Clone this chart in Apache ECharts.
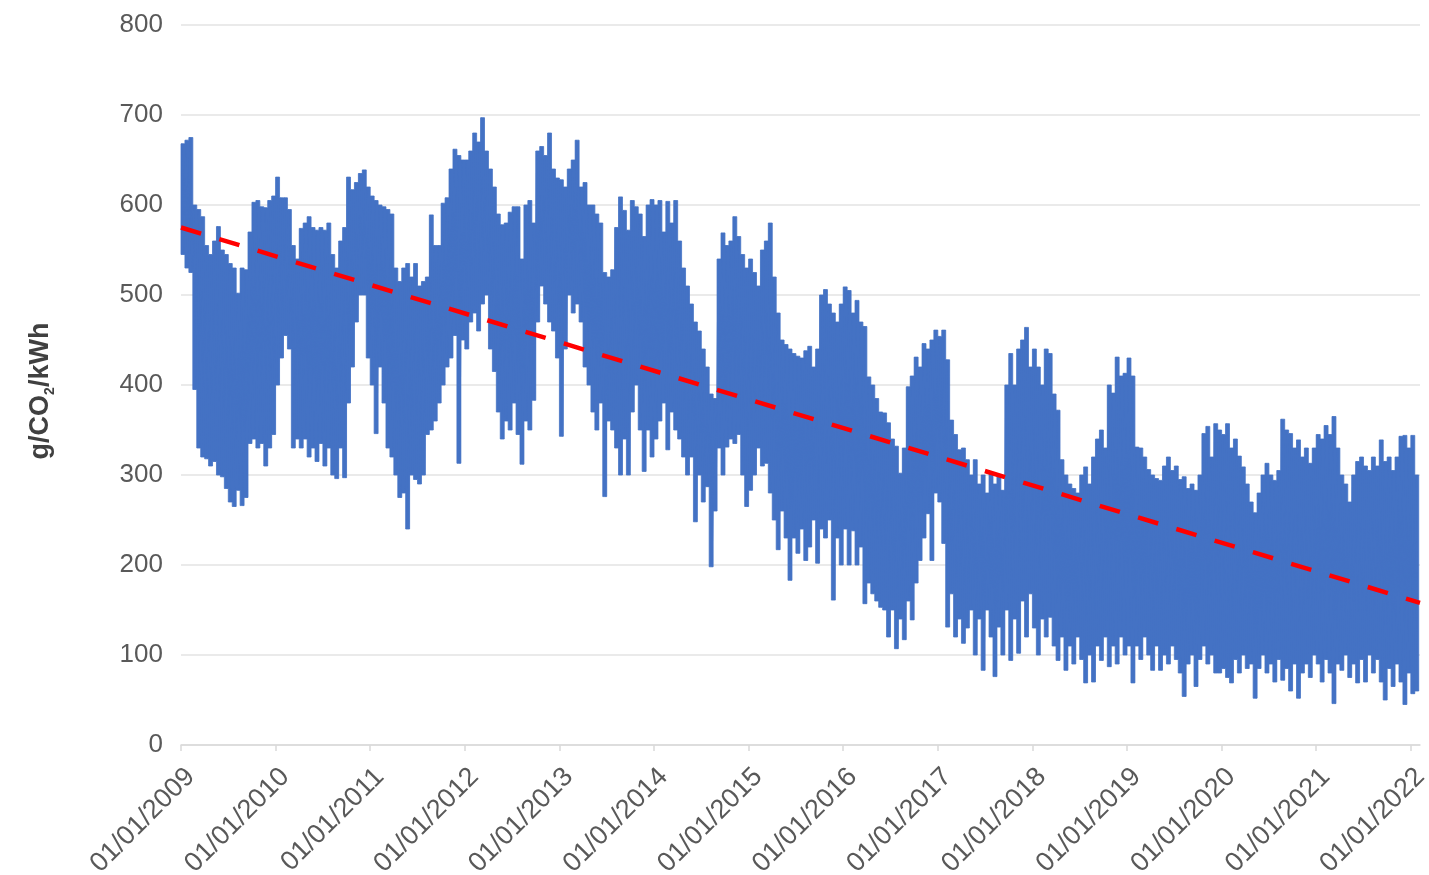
<!DOCTYPE html>
<html>
<head>
<meta charset="utf-8">
<script src="https://cdn.jsdelivr.net/npm/echarts@6/dist/echarts.min.js"></script>
<style>
html,body{margin:0;padding:0;background:#fff;}
#chart{width:1429px;height:875px;}
</style>
</head>
<body>
<div id="chart"></div>
<script>
// Alternating high / low readings, 24 pairs per year
const y2009 = [668,545, 672,530, 675,525, 600,395, 595,330, 587,320, 555,318, 545,310, 560,315, 576,300, 550,298, 545,285, 535,270, 530,265, 502,283, 530,266, 528,275, 570,335, 603,340, 605,330, 598,335, 597,310, 605,330, 610,345];
const y2010 = [631,400, 608,430, 608,455, 595,440, 555,330, 540,340, 574,330, 580,340, 587,320, 575,330, 572,315, 575,335, 572,310, 580,330, 545,300, 530,296, 560,330, 575,297, 631,380, 617,420, 625,470, 635,500, 639,500, 620,430];
const y2011 = [610,400, 605,346, 600,420, 598,380, 595,330, 590,320, 530,300, 515,275, 530,280, 535,240, 520,300, 535,295, 510,290, 515,300, 520,345, 589,350, 555,360, 555,380, 602,400, 608,420, 640,430, 662,455, 655,313, 650,450];
const y2012 = [650,440, 660,470, 680,480, 670,460, 697,490, 660,500, 640,440, 620,415, 590,370, 578,340, 580,360, 592,350, 598,380, 598,345, 540,312, 600,360, 605,350, 580,383, 660,470, 665,510, 655,490, 680,470, 640,460, 630,430];
const y2013 = [628,343, 620,440, 640,500, 650,480, 672,490, 620,470, 625,420, 600,400, 600,370, 590,350, 580,380, 525,276, 520,360, 528,350, 575,330, 609,300, 594,340, 572,300, 605,370, 598,400, 590,350, 565,304, 600,350, 606,320];
const y2014 = [600,340, 605,360, 570,380, 604,328, 580,370, 605,350, 560,340, 530,320, 510,300, 490,320, 470,248, 460,300, 440,270, 420,287, 390,198, 385,260, 540,330, 569,300, 555,331, 560,340, 587,335, 565,345, 545,300, 530,265];
const y2015 = [540,283, 525,300, 510,330, 550,310, 560,313, 580,280, 520,250, 480,217, 450,260, 445,230, 440,183, 435,230, 432,213, 430,240, 438,205, 443,220, 420,250, 440,202, 500,240, 506,230, 490,250, 480,161, 470,230, 490,200];
const y2016 = [509,240, 505,200, 480,238, 494,200, 470,220, 465,157, 409,180, 400,168, 385,160, 370,153, 369,150, 358,120, 340,150, 332,107, 302,140, 330,117, 398,160, 410,139, 431,180, 420,205, 446,230, 440,257, 450,205, 461,280];
const y2017 = [454,270, 461,224, 428,131, 361,168, 345,120, 328,140, 330,113, 317,130, 300,150, 317,100, 290,140, 300,83, 280,150, 302,120, 290,76, 300,131, 283,100, 400,150, 435,94, 400,140, 440,102, 450,160, 464,120, 420,168];
const y2018 = [440,130, 420,100, 400,140, 440,120, 435,142, 390,110, 372,94, 317,120, 300,83, 290,110, 285,90, 280,120, 300,95, 309,69, 290,100, 320,70, 340,110, 350,94, 330,120, 400,87, 391,110, 431,90, 410,120, 413,100];
const y2019 = [430,110, 410,69, 331,110, 330,95, 320,120, 306,100, 300,83, 296,110, 294,83, 310,100, 320,90, 305,110, 310,95, 295,80, 298,54, 285,90, 290,100, 283,65, 300,95, 346,110, 354,90, 320,100, 357,80, 350,80];
const y2020 = [345,85, 357,75, 330,69, 340,95, 321,80, 309,100, 290,85, 270,90, 258,52, 280,85, 300,100, 313,80, 300,90, 294,70, 305,95, 362,72, 350,85, 346,60, 330,90, 339,52, 320,80, 330,90, 313,75, 330,100];
const y2021 = [345,90, 340,70, 355,95, 345,80, 365,46, 330,90, 300,83, 290,100, 270,75, 300,90, 315,69, 320,95, 310,70, 305,100, 320,80, 310,95, 339,70, 315,50, 320,85, 305,65, 320,90, 343,70, 344,45, 330,80];
const y2022 = [344,57, 300,60];

const seriesYears = [2009,2010,2011,2012,2013,2014,2015,2016,2017,2018,2019,2020,2021,2022];
const seriesByYear = [y2009,y2010,y2011,y2012,y2013,y2014,y2015,y2016,y2017,y2018,y2019,y2020,y2021,y2022];
const readingsPerYear = 48;

// Linear trend line end points (year, value)
const trendYears = [2009, 2022.097];
const trendValues = [575, 158];

// Axis ticks
const yearTicks = [2009,2010,2011,2012,2013,2014,2015,2016,2017,2018,2019,2020,2021,2022];

// Build series data from the arrays above
const intensity = [];
const band = [];
seriesByYear.forEach((vals, yi) => {
  const yr = seriesYears[yi];
  vals.forEach((v, j) => {
    intensity.push([yr + (j + 0.5) / readingsPerYear, v]);
  });
  for (let j = 0; j + 1 < vals.length; j += 2) {
    band.push([yr + (j + 1) / readingsPerYear, Math.min(vals[j], vals[j + 1]), Math.max(vals[j], vals[j + 1])]);
  }
});
const trend = trendYears.map((t, i) => [t, trendValues[i]]);
const halfSlot = 1 / readingsPerYear;

const BLUE = '#4472C4';
const FONT = '"Liberation Sans", Arial, sans-serif';
const chart = echarts.init(document.getElementById('chart'), null, {renderer: 'canvas'});
chart.setOption({
  animation: false,
  backgroundColor: '#ffffff',
  grid: {left: 181, right: 9, top: 25, bottom: 130, containLabel: false, outerBoundsMode: 'none'},
  xAxis: {
    type: 'value',
    min: 2009,
    max: 2022.097,
    splitLine: {show: false},
    axisLine: {show: true, onZero: false, lineStyle: {color: '#d9d9d9', width: 1.5}},
    axisTick: {show: true, length: 6, lineStyle: {color: '#d9d9d9', width: 1.5}, customValues: yearTicks},
    axisLabel: {
      customValues: yearTicks,
      rotate: 45,
      margin: 18,
      verticalAlign: 'top',
      color: '#595959',
      fontSize: 27,
      fontFamily: FONT,
      formatter: v => '01/01/' + Math.round(v)
    }
  },
  yAxis: {
    type: 'value',
    min: 0,
    max: 800,
    interval: 100,
    axisLine: {show: false},
    axisTick: {show: false},
    splitLine: {lineStyle: {color: '#e3e3e3', width: 1.5}},
    axisLabel: {color: '#595959', fontSize: 26, margin: 18, fontFamily: FONT},
    name: '{a|g/CO}{s|2}{a|/kWh}',
    nameLocation: 'middle',
    nameRotate: 90,
    nameGap: 124,
    nameTextStyle: {
      padding: [0, 12, 0, 0],
      rich: {
        a: {fontSize: 27, fontWeight: 'bold', color: '#404040', fontFamily: FONT, lineHeight: 32, verticalAlign: 'middle'},
        s: {fontSize: 14, fontWeight: 'bold', color: '#404040', fontFamily: FONT, lineHeight: 32, verticalAlign: 'bottom'}
      }
    }
  },
  series: [
    {
      // One filled step-band polygon between the high and low readings
      type: 'custom',
      data: band,
      encode: {x: 0, y: [1, 2]},
      silent: true,
      z: 1,
      renderItem: function (params, api) {
        if (params.dataIndex !== 0) return null;
        const upper = [];
        const lower = [];
        band.forEach(d => {
          const a = api.coord([d[0] - halfSlot, d[2]]);
          const b = api.coord([d[0] + halfSlot, d[2]]);
          const c = api.coord([d[0] + halfSlot, d[1]]);
          const e = api.coord([d[0] - halfSlot, d[1]]);
          upper.push(a, b);
          lower.push(e, c);
        });
        const points = upper.concat(lower.reverse());
        return {
          type: 'polygon',
          shape: {points: points},
          style: {fill: BLUE, stroke: BLUE, lineWidth: 0.8}
        };
      }
    },
    {
      type: 'line',
      data: intensity,
      showSymbol: false,
      symbol: 'none',
      lineStyle: {color: BLUE, width: 1.2},
      z: 2
    },
    {
      type: 'line',
      data: trend,
      showSymbol: false,
      symbol: 'none',
      lineStyle: {color: '#ff0000', width: 4.5, type: [21, 19]},
      z: 3
    }
  ]
});
</script>
</body>
</html>
